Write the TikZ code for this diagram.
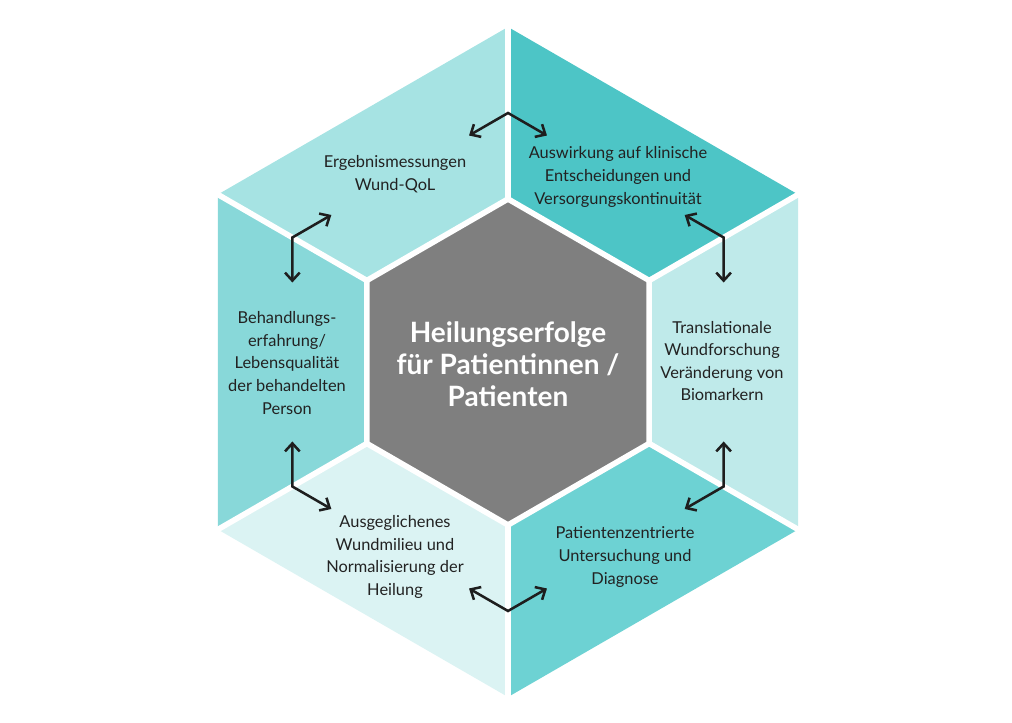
\documentclass[tikz,border=0pt]{standalone}
\usepackage{fontspec}
\setmainfont{Lato}
\usetikzlibrary{arrows.meta,calc}
\definecolor{pTL}{HTML}{A6E3E3}
\definecolor{pTR}{HTML}{4DC5C6}
\definecolor{pR}{HTML}{BFEAEA}
\definecolor{pBR}{HTML}{6DD2D3}
\definecolor{pBL}{HTML}{DBF3F3}
\definecolor{pL}{HTML}{88D8D9}
\definecolor{pC}{HTML}{7F7F7F}
\definecolor{txt}{HTML}{222222}
\definecolor{arr}{HTML}{1E1E1E}
\tikzset{
  sep/.style={white,line width=4.2pt},
  hub/.style={draw=white,line width=4.2pt,fill=pC,line join=miter},
  lbl/.style={align=center,text=txt,font=\fontsize{12.3pt}{16.9pt}\selectfont,inner sep=0pt},
  ctr/.style={align=center,text=white,font=\fontsize{21pt}{24pt}\selectfont\bfseries,inner sep=0pt},
  dbl/.style={arr,line width=1.9pt,line join=miter,{Straight Barb[length=6pt,width=11pt]}-{Straight Barb[length=6pt,width=11pt]}}
}
\begin{document}
\begin{tikzpicture}[x=0.75pt,y=0.75pt]
\useasboundingbox (0,0) rectangle (1012,723);
\coordinate (C) at (508,361);
\def\RO{335}
\def\RI{163}
\def\RM{249}
% panels
\foreach \a/\col in {90/pTL,30/pTR,-30/pR,270/pBR,210/pBL,150/pL}{
  \fill[\col] ($(C)+(\a:\RO)$) -- ($(C)+(\a+60:\RO)$) -- ($(C)+(\a+60:\RI)$) -- ($(C)+(\a:\RI)$) -- cycle;
}
% separators
\foreach \a in {30,90,150,210,270,330}{
  \draw[sep] ($(C)+(\a:\RI)$) -- ($(C)+(\a:\RO+4)$);
}
% centre hexagon
\draw[hub] ($(C)+(90:\RI)$) -- ($(C)+(150:\RI)$) -- ($(C)+(210:\RI)$) -- ($(C)+(270:\RI)$) -- ($(C)+(330:\RI)$) -- ($(C)+(30:\RI)$) -- cycle;
\node[ctr] (centre) at (508,359) {Heilungserfolge\\für Patientinnen /\\Patienten};
% labels
\node[lbl] (tl) at (395,549) {Ergebnismessungen\\Wund-QoL};
\node[lbl] (tr) at (618,546) {Auswirkung auf klinische\\Entscheidungen und\\Versorgungskontinuität};
\node[lbl] (r) at (722,362) {Translationale\\Wundforschung\\Veränderung von\\Biomarkern};
\node[lbl] (br) at (625,166) {Patientenzentrierte\\Untersuchung und\\Diagnose};
\node[lbl] (bl) at (395,166) {Ausgeglichenes\\Wundmilieu und\\Normalisierung der\\Heilung};
\node[lbl] (l) at (287,360) {Behandlungs-\\erfahrung/\\Lebensqualität\\der behandelten\\Person};
% arrows
\foreach \a [count=\i] in {90,150,210,270,330,30}{
  \coordinate (k\i) at ($(C)+(\a:\RM)$);
  \coordinate (u\i) at ($(k\i)+(\a+120:45)$);
  \coordinate (v\i) at ($(k\i)+(\a-120:45)$);
  \draw[dbl] (u\i) -- (k\i) -- (v\i);
}
\end{tikzpicture}
\end{document}
